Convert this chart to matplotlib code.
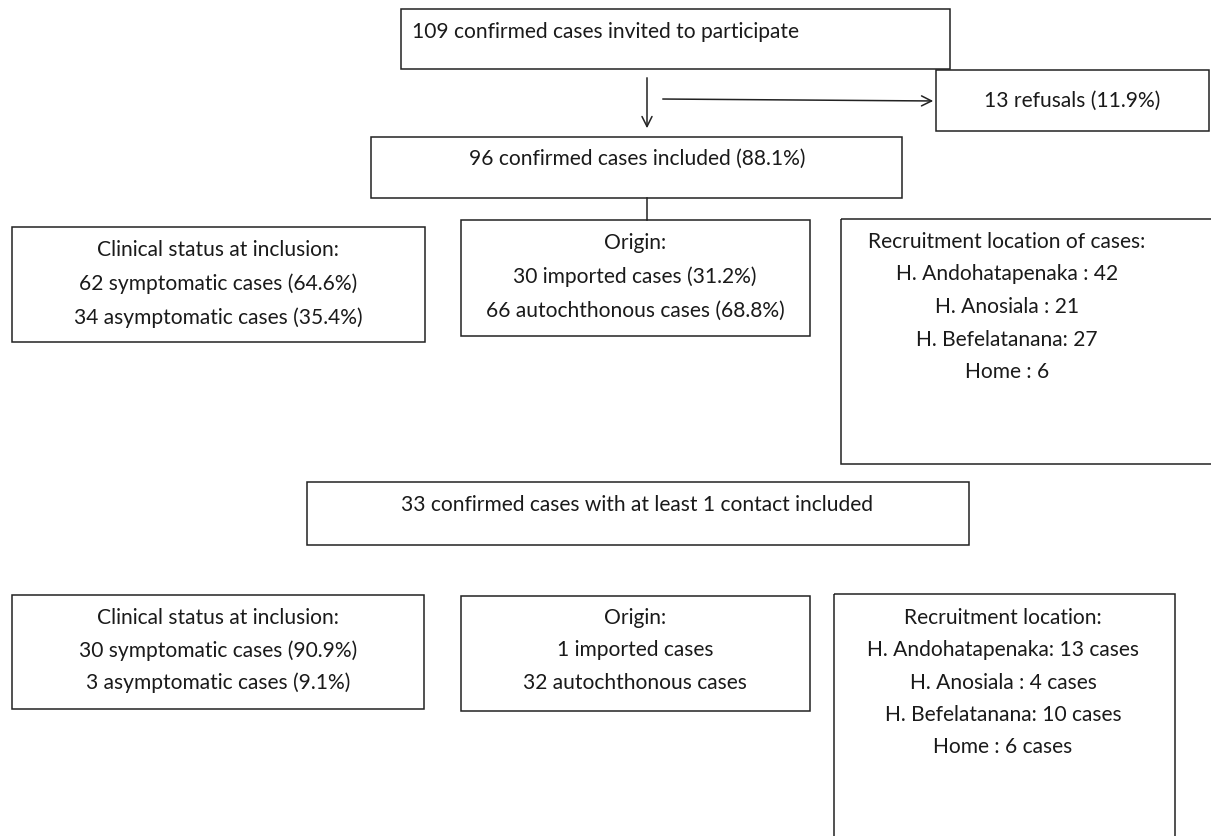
import matplotlib
matplotlib.use("Agg")
import matplotlib.pyplot as plt
from matplotlib.patches import Rectangle

# texts of the flow chart
invited = "109 confirmed cases invited to participate"
refusals = "13 refusals (11.9%)"
included = "96 confirmed cases included (88.1%)"
clinical_all = ["Clinical status at inclusion:",
                "62 symptomatic cases (64.6%)",
                "34 asymptomatic cases (35.4%)"]
origin_all = ["Origin:",
              "30 imported cases (31.2%)",
              "66 autochthonous cases (68.8%)"]
location_all = ["Recruitment location of cases:",
                "H. Andohatapenaka : 42",
                "H. Anosiala : 21",
                "H. Befelatanana: 27",
                "Home : 6"]
with_contact = "33 confirmed cases with at least 1 contact included"
clinical_contact = ["Clinical status at inclusion:",
                    "30 symptomatic cases (90.9%)",
                    "3 asymptomatic cases (9.1%)"]
origin_contact = ["Origin:",
                  "1 imported cases",
                  "32 autochthonous cases"]
location_contact = ["Recruitment location:",
                    "H. Andohatapenaka: 13 cases",
                    "H. Anosiala : 4 cases",
                    "H. Befelatanana: 10 cases",
                    "Home : 6 cases"]

W, H = 1211, 836
fig = plt.figure(figsize=(W / 100, H / 100), dpi=100)
ax = fig.add_axes([0, 0, 1, 1])
ax.set_xlim(0, W)
ax.set_ylim(H, 0)
ax.axis("off")

FONT = "Lato"
FS = 15.1
TXT = "#1a1a1a"
LW = 1.1
DY = 2  # small nudge so text sits like the original


def box(x0, y0, x1, y1):
    ax.add_patch(Rectangle((x0, y0), x1 - x0, y1 - y0, fill=False,
                           edgecolor="#222222", lw=LW, clip_on=False))


def label(x, y, s, ha="center"):
    ax.text(x, y + DY, s, ha=ha, va="center", fontsize=FS, family=FONT, color=TXT)


def lines(cx, y0, items, step=33):
    for i, s in enumerate(items):
        label(cx, y0 + i * step, s)


# top
box(401, 9, 950, 69)
label(412, 30, invited, ha="left")

box(936, 70, 1209, 131)
label(1072, 99, refusals)

ax.annotate("", xy=(647, 131), xytext=(647, 75),
            arrowprops=dict(arrowstyle="->", color="#222222", lw=LW, mutation_scale=18))
ax.annotate("", xy=(936, 101), xytext=(660, 99),
            arrowprops=dict(arrowstyle="->", color="#222222", lw=LW, mutation_scale=18))

box(371, 137, 902, 198)
label(637, 157, included)
ax.plot([647, 647], [198, 220], color="#222222", lw=LW)

# first row of detail boxes
box(12, 227, 425, 342)
lines(218, 248, clinical_all, 34)
box(461, 220, 810, 336)
lines(635, 241, origin_all, 34)
box(841, 219, 1213, 464)
lines(1007, 240, location_all, 32.5)

# contacts
box(307, 482, 969, 545)
label(637, 503, with_contact)

box(12, 595, 424, 709)
lines(218, 616, clinical_contact, 32.5)
box(461, 596, 810, 711)
lines(635, 616, origin_contact, 32.5)
box(834, 594, 1175, 840)
lines(1003, 616, location_contact, 32.3)

fig.savefig("out.png", dpi=100, facecolor="white")
